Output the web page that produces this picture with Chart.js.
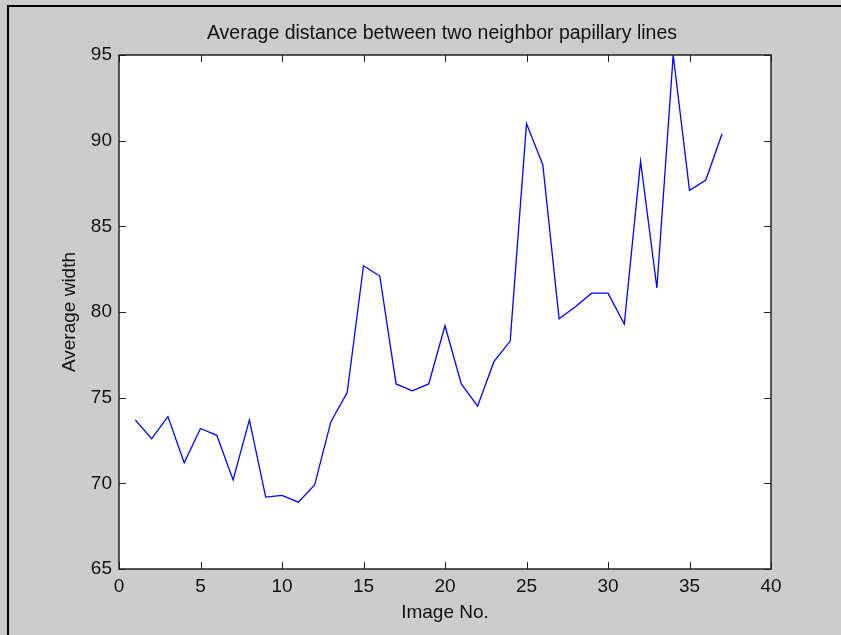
<!DOCTYPE html>
<html>
<head>
<meta charset="utf-8">
<script src="https://cdn.jsdelivr.net/npm/chart.js@4.4.1/dist/chart.umd.min.js"></script>
<style>
  html, body { margin: 0; padding: 0; background: #cccccc; overflow: hidden; }
  #chart { display: block; }
</style>
</head>
<body>
<canvas id="chart" width="841" height="635"></canvas>
<script>
// Data
const imageNo = [1, 2, 3, 4, 5, 6, 7, 8, 9, 10, 11, 12, 13, 14, 15, 16, 17, 18, 19,
                 20, 21, 22, 23, 24, 25, 26, 27, 28, 29, 30, 31, 32, 33, 34, 35, 36, 37];
const avgWidth = [73.7, 72.6, 73.9, 71.2, 73.2, 72.8, 70.2, 73.7, 69.2, 69.3, 68.9, 69.9, 73.6,
                  75.3, 82.7, 82.1, 75.8, 75.4, 75.8, 79.2, 75.8, 74.5, 77.1, 78.3, 91.0, 88.6,
                  79.6, 80.3, 81.1, 81.1, 79.3, 88.8, 81.4, 95.0, 87.1, 87.7, 90.4];
const xTicks = [0, 5, 10, 15, 20, 25, 30, 35, 40];
const yTicks = [65, 70, 75, 80, 85, 90, 95];
const chartTitle = "Average distance between two neighbor papillary lines";

const fontFamily = "'Liberation Sans', Arial, sans-serif";
const textColor = "#111";

// figure background, white axes box, frame, inward ticks (matlab style) and the title
const axesBox = {
    id: "axesBox",
    beforeDraw(chart) {
        const { ctx, width, height } = chart;
        ctx.save();
        ctx.fillStyle = "#cccccc";
        ctx.fillRect(0, 0, width, height);
        // window edge visible on the left and top of the screenshot
        ctx.fillStyle = "#000";
        ctx.fillRect(7, 5, width - 7, 2);
        ctx.fillRect(7, 5, 2, height - 5);
        ctx.restore();
    },
    beforeDatasetsDraw(chart) {
        const { ctx, chartArea: a } = chart;
        ctx.save();
        ctx.fillStyle = "#fff";
        ctx.fillRect(a.left, a.top, a.right - a.left, a.bottom - a.top);
        ctx.restore();
    },
    afterDatasetsDraw(chart) {
        const { ctx, chartArea: a, scales } = chart;
        const len = 7;
        ctx.save();
        ctx.strokeStyle = "#222";
        ctx.lineWidth = 1;
        ctx.beginPath();
        xTicks.forEach(v => {
            const x = Math.round(scales.x.getPixelForValue(v)) + 0.5;
            ctx.moveTo(x, a.bottom); ctx.lineTo(x, a.bottom - len);
            ctx.moveTo(x, a.top); ctx.lineTo(x, a.top + len);
        });
        yTicks.forEach(v => {
            const y = Math.round(scales.y.getPixelForValue(v)) + 0.5;
            ctx.moveTo(a.left, y); ctx.lineTo(a.left + len, y);
            ctx.moveTo(a.right, y); ctx.lineTo(a.right - len, y);
        });
        ctx.stroke();
        ctx.lineWidth = 1.5;
        ctx.strokeRect(a.left, a.top, a.right - a.left, a.bottom - a.top);

        // title centred over the axes box
        ctx.fillStyle = textColor;
        ctx.font = "19.5px " + fontFamily;
        ctx.textAlign = "center";
        ctx.textBaseline = "alphabetic";
        ctx.fillText(chartTitle, (a.left + a.right) / 2 - 3, 39);
        ctx.restore();
    }
};

new Chart(document.getElementById("chart"), {
    type: "line",
    data: {
        datasets: [{
            data: imageNo.map((x, i) => ({ x: x, y: avgWidth[i] })),
            borderColor: "#0000ff",
            borderWidth: 1.3,
            pointRadius: 0,
            tension: 0,
            fill: false
        }]
    },
    options: {
        responsive: false,
        animation: false,
        devicePixelRatio: 1,
        layout: { padding: { left: 0, right: 70, top: 55, bottom: 0 } },
        plugins: {
            legend: { display: false },
            tooltip: { enabled: false },
            title: { display: false }
        },
        scales: {
            x: {
                type: "linear",
                min: 0, max: 40,
                afterFit(scale) { scale.height = 66; },
                afterBuildTicks(scale) { scale.ticks = xTicks.map(v => ({ value: v })); },
                grid: { display: false, drawTicks: false },
                border: { display: false },
                ticks: { color: textColor, padding: 6, maxRotation: 0,
                         font: { family: fontFamily, size: 19 } },
                title: { display: true, text: "Image No.", color: textColor,
                         font: { family: fontFamily, size: 19 },
                         padding: { top: 11, bottom: 11 } }
            },
            y: {
                type: "linear",
                min: 65, max: 95,
                afterFit(scale) { scale.width = 119; },
                afterBuildTicks(scale) { scale.ticks = yTicks.map(v => ({ value: v })); },
                grid: { display: false, drawTicks: false },
                border: { display: false },
                ticks: { color: textColor, padding: 7,
                         font: { family: fontFamily, size: 19 } },
                title: { display: true, text: "Average width", color: textColor,
                         font: { family: fontFamily, size: 19 },
                         padding: { top: 58, bottom: 58 } }
            }
        }
    },
    plugins: [axesBox]
});
</script>
</body>
</html>
